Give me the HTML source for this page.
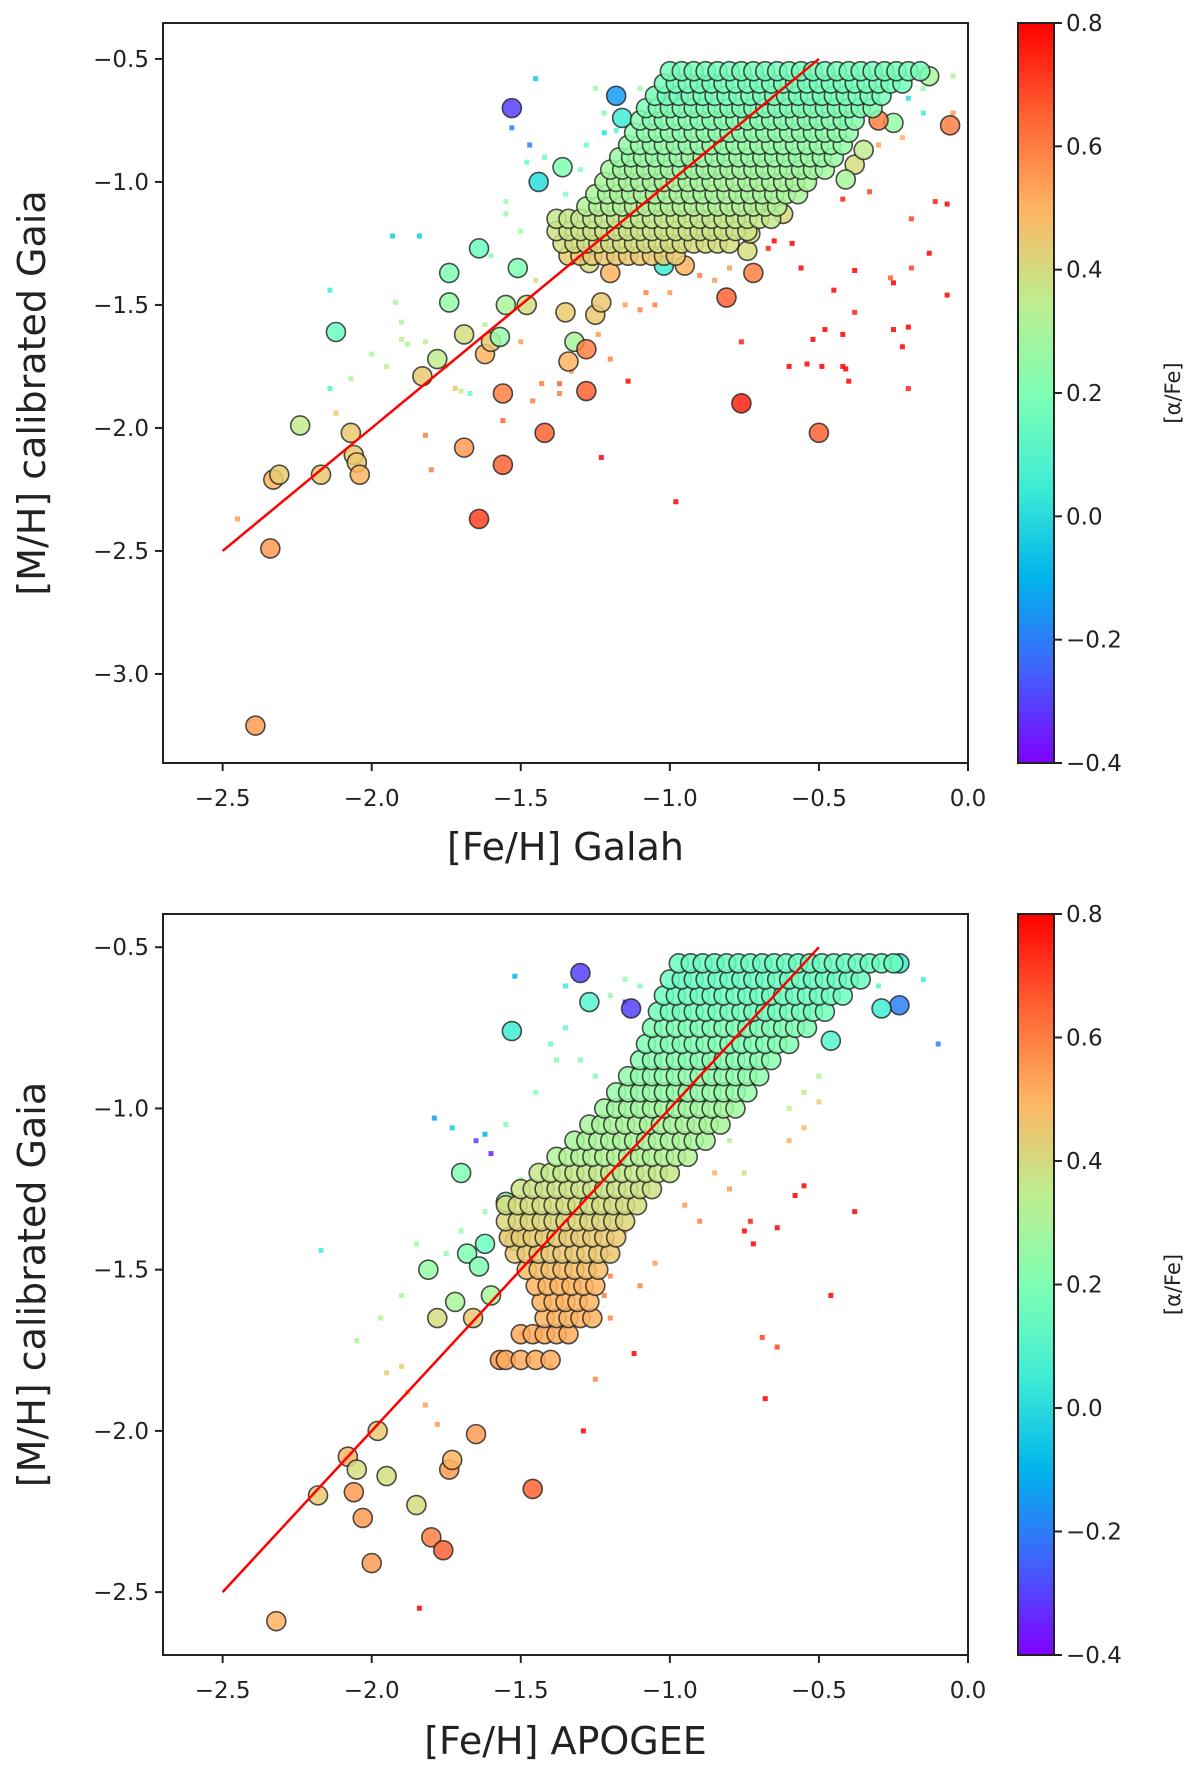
<!DOCTYPE html>
<html><head><meta charset="utf-8"><style>
html,body{margin:0;padding:0;background:#fff;}
svg{display:block;font-family:"DejaVu Sans","Liberation Sans",sans-serif;}
</style></head><body>
<svg id="fig" width="1200" height="1769" viewBox="0 0 1200 1769">
<defs>
<linearGradient id="rb" x1="0" y1="1" x2="0" y2="0">
<stop offset="0" stop-color="rgb(128,0,255)"/><stop offset="0.125" stop-color="rgb(64,98,250)"/>
<stop offset="0.25" stop-color="rgb(0,180,236)"/><stop offset="0.375" stop-color="rgb(64,236,212)"/>
<stop offset="0.5" stop-color="rgb(128,255,180)"/><stop offset="0.625" stop-color="rgb(191,236,142)"/>
<stop offset="0.75" stop-color="rgb(255,180,98)"/><stop offset="0.875" stop-color="rgb(255,98,50)"/>
<stop offset="1" stop-color="rgb(255,0,0)"/>
</linearGradient>
</defs>
</svg>
<script>
// ---------- data: top panel (GALAH) ----------
const galahOutliers = [[-1.53,-0.70,-0.3],[-2.39,-3.21,0.55],[-2.34,-2.49,0.55],[-2.33,-2.21,0.5],[-2.31,-2.19,0.45],[-2.24,-1.99,0.35],[-2.17,-2.19,0.45],[-2.12,-1.61,0.15],[-2.07,-2.02,0.45],[-2.06,-2.11,0.45],[-2.05,-2.14,0.45],[-2.04,-2.19,0.5],[-1.83,-1.79,0.45],[-1.78,-1.72,0.35],[-1.74,-1.49,0.25],[-1.74,-1.37,0.2],[-1.69,-1.62,0.4],[-1.69,-2.08,0.55],[-1.64,-1.27,0.15],[-1.64,-2.37,0.7],[-1.62,-1.70,0.5],[-1.60,-1.65,0.45],[-1.57,-1.63,0.25],[-1.56,-1.86,0.6],[-1.56,-2.15,0.65],[-1.55,-1.50,0.3],[-1.51,-1.35,0.2],[-1.48,-1.50,0.4],[-1.42,-2.02,0.65],[-1.44,-1.00,0.0],[-1.36,-0.94,0.2],[-1.35,-1.53,0.45],[-1.34,-1.73,0.5],[-1.32,-1.65,0.3],[-1.28,-1.85,0.65],[-1.28,-1.68,0.6],[-1.25,-1.54,0.45],[-1.23,-1.49,0.45],[-1.27,-1.33,0.4],[-1.20,-1.37,0.5],[-1.18,-0.65,-0.15],[-1.16,-0.74,0.05],[-1.02,-1.34,0.05],[-0.99,-0.65,-0.3],[-0.95,-1.34,0.5],[-0.81,-1.47,0.65],[-0.76,-1.90,0.75],[-0.50,-2.02,0.65],[-0.06,-0.77,0.6],[-0.74,-1.28,0.4],[-0.72,-1.37,0.6],[-0.73,-1.21,0.4],[-0.62,-1.13,0.4],[-0.71,-1.10,0.45],[-0.38,-0.93,0.4],[-0.35,-0.87,0.35],[-0.25,-0.76,0.25],[-0.30,-0.75,0.6],[-0.13,-0.57,0.3],[-0.41,-0.99,0.3]];
const galahRowY = [-1.30,-1.25,-1.20,-1.15,-1.10,-1.05,-1.00,-0.95,-0.90,-0.85,-0.80,-0.75,-0.70,-0.65,-0.60,-0.55];
const galahRowA = [0.45,0.4,0.38,0.36,0.32,0.3,0.3,0.28,0.26,0.25,0.24,0.22,0.2,0.18,0.18,0.18];
const galahRowX = [
[-1.34,-1.30,-1.26,-1.22,-1.18,-1.14,-1.10,-1.06,-1.02,-0.98],
[-1.36,-1.32,-1.28,-1.24,-1.20,-1.16,-1.12,-1.08,-1.04,-1.00,-0.96,-0.92,-0.88,-0.84,-0.80],
[-1.38,-1.34,-1.30,-1.26,-1.22,-1.18,-1.14,-1.10,-1.06,-1.02,-0.98,-0.94,-0.90,-0.86,-0.82,-0.78,-0.74],
[-1.38,-1.34,-1.30,-1.26,-1.22,-1.18,-1.14,-1.10,-1.06,-1.02,-0.98,-0.94,-0.90,-0.86,-0.82,-0.78,-0.74,-0.70,-0.66],
[-1.28,-1.24,-1.20,-1.16,-1.12,-1.08,-1.04,-1.00,-0.96,-0.92,-0.88,-0.84,-0.80,-0.76,-0.72,-0.68,-0.64],
[-1.25,-1.21,-1.17,-1.13,-1.09,-1.05,-1.01,-0.97,-0.93,-0.89,-0.85,-0.81,-0.77,-0.73,-0.69,-0.65,-0.61,-0.57],
[-1.22,-1.18,-1.14,-1.10,-1.06,-1.02,-0.98,-0.94,-0.90,-0.86,-0.82,-0.78,-0.74,-0.70,-0.66,-0.62,-0.58,-0.54],
[-1.20,-1.16,-1.12,-1.08,-1.04,-1.00,-0.96,-0.92,-0.88,-0.84,-0.80,-0.76,-0.72,-0.68,-0.64,-0.60,-0.56,-0.52,-0.48],
[-1.17,-1.13,-1.09,-1.05,-1.01,-0.97,-0.93,-0.89,-0.85,-0.81,-0.77,-0.73,-0.69,-0.65,-0.61,-0.57,-0.53,-0.49,-0.45],
[-1.14,-1.10,-1.06,-1.02,-0.98,-0.94,-0.90,-0.86,-0.82,-0.78,-0.74,-0.70,-0.66,-0.62,-0.58,-0.54,-0.50,-0.46,-0.42],
[-1.12,-1.08,-1.04,-1.00,-0.96,-0.92,-0.88,-0.84,-0.80,-0.76,-0.72,-0.68,-0.64,-0.60,-0.56,-0.52,-0.48,-0.44,-0.40],
[-1.10,-1.06,-1.02,-0.98,-0.94,-0.90,-0.86,-0.82,-0.78,-0.74,-0.70,-0.66,-0.62,-0.58,-0.54,-0.50,-0.46,-0.42,-0.38],
[-1.08,-1.04,-1.00,-0.96,-0.92,-0.88,-0.84,-0.80,-0.76,-0.72,-0.68,-0.64,-0.60,-0.56,-0.52,-0.48,-0.44,-0.40,-0.36,-0.32],
[-1.05,-1.01,-0.97,-0.93,-0.89,-0.85,-0.81,-0.77,-0.73,-0.69,-0.65,-0.61,-0.57,-0.53,-0.49,-0.45,-0.41,-0.37,-0.33,-0.29],
[-1.02,-0.98,-0.94,-0.90,-0.86,-0.82,-0.78,-0.74,-0.70,-0.66,-0.62,-0.58,-0.54,-0.50,-0.46,-0.42,-0.38,-0.34,-0.30,-0.26,-0.22],
[-1.00,-0.96,-0.92,-0.88,-0.84,-0.80,-0.76,-0.72,-0.68,-0.64,-0.60,-0.56,-0.52,-0.48,-0.44,-0.40,-0.36,-0.32,-0.28,-0.24,-0.20,-0.16]];
const galahDots = [[-0.45,-1.44,0.8],[-0.42,-1.62,0.8],[-0.41,-1.76,0.8],[-0.40,-1.81,0.8],[-0.38,-1.36,0.8],[-0.38,-1.53,0.75],[-0.25,-1.41,0.8],[-0.25,-1.60,0.8],[-0.22,-1.67,0.8],[-0.20,-1.84,0.75],[-0.20,-1.59,0.8],[-0.13,-1.29,0.8],[-0.11,-1.08,0.75],[-0.07,-1.09,0.8],[-0.07,-1.46,0.8],[-0.56,-1.35,0.8],[-0.60,-1.75,0.8],[-0.54,-1.74,0.8],[-0.52,-1.64,0.8],[-0.49,-1.75,0.8],[-0.48,-1.60,0.8],[-0.59,-1.25,0.8],[-0.65,-1.24,0.8],[-0.67,-1.27,0.75],[-0.76,-1.65,0.75],[-0.98,-2.30,0.8],[-1.23,-2.12,0.8],[-1.14,-1.81,0.8],[-0.42,-1.75,0.8],[-0.42,-1.07,0.75],[-0.33,-1.04,0.7],[-0.19,-1.35,0.7],[-0.19,-1.15,0.7],[-0.26,-1.39,0.65],
[-1.80,-2.17,0.6],[-1.82,-2.03,0.6],[-1.56,-1.97,0.65],[-1.72,-1.84,0.45],[-1.50,-1.65,0.55],[-1.43,-1.82,0.6],[-1.46,-1.89,0.6],[-1.37,-1.82,0.65],[-1.37,-1.86,0.6],[-1.33,-1.77,0.55],[-1.20,-1.72,0.6],[-1.24,-1.62,0.55],[-1.15,-1.50,0.55],[-1.10,-1.52,0.6],[-1.05,-1.50,0.6],[-1.00,-1.45,0.55],[-0.90,-1.38,0.6],[-0.85,-1.40,0.55],[-1.08,-1.45,0.6],[-0.98,-1.28,0.6],[-0.80,-1.35,0.55],
[-1.45,-0.58,-0.05],[-1.47,-0.85,-0.2],[-1.53,-0.78,-0.2],[-1.93,-1.22,-0.05],[-1.84,-1.22,-0.05],[-2.14,-1.44,0.05],[-2.14,-1.84,0.1],[-2.07,-1.80,0.3],[-2.00,-1.70,0.3],[-1.92,-1.49,0.3],[-1.90,-1.57,0.3],[-1.90,-1.64,0.35],[-1.88,-1.66,0.3],[-1.82,-1.65,0.35],[-2.12,-1.94,0.45],[-2.45,-2.37,0.55],[-1.70,-1.85,0.35],[-1.67,-1.86,0.15],[-1.55,-1.08,0.25],[-1.55,-1.13,0.25],[-1.60,-1.30,0.2],[-1.50,-1.20,0.25],[-1.48,-0.92,0.15],[-1.42,-0.90,0.15],[-1.35,-1.05,0.2],[-1.30,-0.95,0.2],[-1.28,-0.85,0.15],[-1.25,-0.62,0.25],[-1.22,-0.72,0.2],[-1.22,-0.80,0.0],[-1.18,-0.79,0.1],[-1.10,-0.62,0.25],[-1.07,-0.70,-0.15],[-0.90,-0.60,0.2],[-0.05,-0.57,0.3],[-0.05,-0.72,0.55],[-0.15,-0.62,0.25],[-0.20,-0.66,0.0],[-0.32,-0.66,0.25],[-0.42,-0.75,0.05],[-0.30,-0.85,0.55],[-0.22,-0.82,0.5],[-0.15,-0.72,0.05],[-1.62,-1.58,0.35],[-1.45,-1.40,0.4],[-1.75,-1.75,0.4],[-1.95,-1.75,0.35]];
// ---------- data: bottom panel (APOGEE) ----------
const apogeeOutliers = [[-2.32,-2.59,0.5],[-2.18,-2.20,0.45],[-2.08,-2.08,0.5],[-2.06,-2.19,0.55],[-2.05,-2.12,0.4],[-2.03,-2.27,0.55],[-2.00,-2.41,0.55],[-1.98,-2.00,0.45],[-1.95,-2.14,0.4],[-1.85,-2.23,0.4],[-1.80,-2.33,0.6],[-1.76,-2.37,0.65],[-1.74,-2.12,0.55],[-1.73,-2.09,0.5],[-1.65,-2.01,0.55],[-1.46,-2.18,0.65],[-1.81,-1.50,0.25],[-1.78,-1.65,0.4],[-1.72,-1.60,0.3],[-1.70,-1.20,0.2],[-1.68,-1.45,0.2],[-1.66,-1.65,0.45],[-1.64,-1.49,0.2],[-1.62,-1.42,0.15],[-1.60,-1.58,0.3],[-1.57,-1.78,0.55],[-1.55,-1.29,0.25],[-1.52,-1.41,0.3],[-1.53,-0.76,0.05],[-1.30,-0.58,-0.3],[-1.27,-0.67,0.1],[-1.13,-0.69,-0.3],[-0.23,-0.55,0.05],[-0.23,-0.68,-0.2],[-0.29,-0.69,0.05],[-0.46,-0.79,0.1]];
const apogeeRowY = [-1.78,-1.70,-1.65,-1.60,-1.55,-1.50,-1.45,-1.40,-1.35,-1.30,-1.25,-1.20,-1.15,-1.10,-1.05,-1.00,-0.95,-0.90,-0.85,-0.80,-0.75,-0.70,-0.65,-0.60,-0.55];
const apogeeRowA = [0.52,0.52,0.5,0.5,0.5,0.48,0.45,0.45,0.42,0.4,0.38,0.36,0.32,0.3,0.3,0.28,0.25,0.24,0.22,0.2,0.2,0.17,0.16,0.15,0.15];
const apogeeRowX = [
[-1.55,-1.50,-1.45,-1.40],
[-1.50,-1.46,-1.42,-1.38,-1.34],
[-1.42,-1.38,-1.34,-1.30,-1.26],
[-1.43,-1.39,-1.35,-1.31,-1.27],
[-1.45,-1.41,-1.37,-1.33,-1.29,-1.25],
[-1.48,-1.44,-1.40,-1.36,-1.32,-1.28,-1.24],
[-1.52,-1.48,-1.44,-1.40,-1.36,-1.32,-1.28,-1.24,-1.20],
[-1.54,-1.50,-1.46,-1.42,-1.38,-1.34,-1.30,-1.26,-1.22,-1.18],
[-1.55,-1.51,-1.47,-1.43,-1.39,-1.35,-1.31,-1.27,-1.23,-1.19,-1.15],
[-1.55,-1.51,-1.47,-1.43,-1.39,-1.35,-1.31,-1.27,-1.23,-1.19,-1.15,-1.11],
[-1.50,-1.46,-1.42,-1.38,-1.34,-1.30,-1.26,-1.22,-1.18,-1.14,-1.10,-1.06],
[-1.44,-1.40,-1.36,-1.32,-1.28,-1.24,-1.20,-1.16,-1.12,-1.08,-1.04,-1.00],
[-1.38,-1.34,-1.30,-1.26,-1.22,-1.18,-1.14,-1.10,-1.06,-1.02,-0.98,-0.94],
[-1.32,-1.28,-1.24,-1.20,-1.16,-1.12,-1.08,-1.04,-1.00,-0.96,-0.92,-0.88],
[-1.27,-1.23,-1.19,-1.15,-1.11,-1.07,-1.03,-0.99,-0.95,-0.91,-0.87,-0.83],
[-1.22,-1.18,-1.14,-1.10,-1.06,-1.02,-0.98,-0.94,-0.90,-0.86,-0.82,-0.78],
[-1.18,-1.14,-1.10,-1.06,-1.02,-0.98,-0.94,-0.90,-0.86,-0.82,-0.78,-0.74],
[-1.14,-1.10,-1.06,-1.02,-0.98,-0.94,-0.90,-0.86,-0.82,-0.78,-0.74,-0.70],
[-1.10,-1.06,-1.02,-0.98,-0.94,-0.90,-0.86,-0.82,-0.78,-0.74,-0.70,-0.66],
[-1.08,-1.04,-1.00,-0.96,-0.92,-0.88,-0.84,-0.80,-0.76,-0.72,-0.68,-0.64,-0.60],
[-1.06,-1.02,-0.98,-0.94,-0.90,-0.86,-0.82,-0.78,-0.74,-0.70,-0.66,-0.62,-0.58,-0.54],
[-1.04,-1.00,-0.96,-0.92,-0.88,-0.84,-0.80,-0.76,-0.72,-0.68,-0.64,-0.60,-0.56,-0.52,-0.48],
[-1.02,-0.98,-0.94,-0.90,-0.86,-0.82,-0.78,-0.74,-0.70,-0.66,-0.62,-0.58,-0.54,-0.50,-0.46,-0.42],
[-1.00,-0.96,-0.92,-0.88,-0.84,-0.80,-0.76,-0.72,-0.68,-0.64,-0.60,-0.56,-0.52,-0.48,-0.44,-0.40,-0.36],
[-0.97,-0.93,-0.89,-0.85,-0.81,-0.77,-0.73,-0.69,-0.65,-0.61,-0.57,-0.53,-0.49,-0.45,-0.41,-0.37,-0.33,-0.29,-0.25]];
const apogeeDots = [[-1.84,-2.55,0.8],[-1.29,-2.00,0.8],[-1.12,-1.76,0.8],[-0.68,-1.90,0.8],[-0.69,-1.71,0.7],[-0.64,-1.74,0.7],[-0.46,-1.58,0.8],[-0.38,-1.32,0.8],[-0.55,-1.24,0.8],[-0.58,-1.27,0.8],[-0.64,-1.37,0.8],[-0.72,-1.42,0.8],[-0.75,-1.38,0.8],[-0.73,-1.35,0.75],[-1.20,-1.52,0.6],[-1.05,-1.48,0.55],[-1.10,-1.55,0.6],[-1.25,-1.84,0.6],[-1.35,-1.62,0.6],[-1.40,-1.80,0.6],[-1.45,-1.72,0.6],[-1.50,-1.70,0.6],[-1.82,-1.92,0.55],[-1.78,-1.98,0.55],[-1.90,-1.80,0.45],
[-1.60,-1.14,-0.35],[-1.65,-1.10,-0.3],[-1.15,-0.67,-0.35],[-1.79,-1.03,-0.15],[-1.52,-0.59,-0.1],[-1.62,-1.08,-0.1],[-1.73,-1.06,-0.05],[-1.35,-0.62,0.05],[-2.17,-1.44,0.05],[-0.10,-0.80,-0.2],[-0.15,-0.60,0.05],[-0.30,-0.62,0.1],
[-1.45,-0.95,0.2],[-1.40,-0.80,0.15],[-1.35,-0.75,0.15],[-1.38,-0.85,0.2],[-1.30,-0.85,0.2],[-1.25,-0.90,0.2],[-1.20,-0.65,0.25],[-1.15,-0.60,0.25],[-1.10,-0.62,0.2],[-1.55,-1.05,0.2],[-1.50,-1.22,0.25],[-1.62,-1.32,0.25],[-1.75,-1.45,0.25],[-1.70,-1.38,0.25],[-1.90,-1.58,0.3],[-1.85,-1.42,0.25],[-2.05,-1.72,0.3],[-1.97,-1.65,0.3],[-0.80,-1.10,0.35],[-0.75,-1.20,0.4],[-0.60,-1.00,0.35],[-0.55,-0.95,0.35],[-0.50,-0.90,0.3],
[-1.20,-1.45,0.55],[-1.15,-1.38,0.55],[-0.95,-1.30,0.55],[-0.90,-1.35,0.6],[-0.85,-1.20,0.5],[-0.80,-1.25,0.55],[-0.60,-1.10,0.5],[-0.55,-1.06,0.5],[-0.50,-0.98,0.45],[-1.25,-1.50,0.55],[-1.22,-1.58,0.6],[-1.20,-1.65,0.6],[-1.35,-1.38,0.55],[-1.95,-1.82,0.45],[-1.88,-1.88,0.5]];
const fitLineX = [-2.5,-0.5];
const fitLineY = [-2.5,-0.5];
const xTicks = [-2.5,-2.0,-1.5,-1.0,-0.5,0.0];
const xTickLabels = ["\u22122.5","\u22122.0","\u22121.5","\u22121.0","\u22120.5","0.0"];
const galahYTicks = [-0.5,-1.0,-1.5,-2.0,-2.5,-3.0];
const galahYTickLabels = ["\u22120.5","\u22121.0","\u22121.5","\u22122.0","\u22122.5","\u22123.0"];
const apogeeYTicks = [-0.5,-1.0,-1.5,-2.0,-2.5];
const apogeeYTickLabels = ["\u22120.5","\u22121.0","\u22121.5","\u22122.0","\u22122.5"];
const cbTicks = [0.8,0.6,0.4,0.2,0.0,-0.2,-0.4];
const cbTickLabels = ["0.8","0.6","0.4","0.2","0.0","\u22120.2","\u22120.4"];

const NS = "http://www.w3.org/2000/svg";
const svg = document.getElementById('fig');
function mk(tag, attrs, parent){ const e=document.createElementNS(NS,tag); for(const k in attrs) e.setAttribute(k,attrs[k]); (parent||svg).appendChild(e); return e; }
function rainbow(a){
  let t=(a+0.4)/1.2; t=Math.max(0,Math.min(1,t));
  const r=Math.min(1,Math.abs(2*t-0.5)), g=Math.sin(Math.PI*t), b=Math.max(0,Math.cos(Math.PI*t/2));
  return `rgb(${Math.round(r*255)},${Math.round(g*255)},${Math.round(b*255)})`;
}
function rowsToPts(ry, rx, ra){ const out=[]; for(let i=0;i<ry.length;i++) for(let j=0;j<rx[i].length;j++) out.push([rx[i][j], ry[i], ra[i]]); return out; }

function panel(cfg){
  const {L,R,T,B,xmin,xmax,ymin,ymax,name,xlabel,xlabelY,tickLabY,yTicks,yLabels,circles,dots} = cfg;
  const sx=v=>L+(v-xmin)/(xmax-xmin)*(R-L);
  const sy=v=>B-(v-ymin)/(ymax-ymin)*(B-T);
  const g=mk('g',{});  
  const pts=mk('g',{},g);  
  dots.forEach(d=>{ const r=mk('rect',{x:sx(d[0])-2.5,y:sy(d[1])-2.5,width:5,height:5,fill:rainbow(d[2]),'fill-opacity':0.85},pts);
      });
  circles.forEach(c=>{ const e=mk('circle',{cx:sx(c[0]),cy:sy(c[1]),r:9.5,fill:rainbow(c[2]),'fill-opacity':0.85,stroke:'#222','stroke-opacity':0.8,'stroke-width':1.6},pts);
      });
  const ln=mk('line',{x1:sx(fitLineX[0]),y1:sy(fitLineY[0]),x2:sx(fitLineX[1]),y2:sy(fitLineY[1]),stroke:'#ff0000','stroke-width':2.5},g);
   
  const fr=mk('rect',{x:L,y:T,width:R-L,height:B-T,fill:'none',stroke:'#222','stroke-width':2},g);
   
  xTicks.forEach((v,i)=>{ mk('line',{x1:sx(v),x2:sx(v),y1:B,y2:B+8,stroke:'#222','stroke-width':2},g);
    const t=mk('text',{x:sx(v),y:tickLabY,'text-anchor':'middle','font-size':23,fill:'#222'},g); t.textContent=xTickLabels[i];
      });
  yTicks.forEach((v,i)=>{ mk('line',{x1:L-8,x2:L,y1:sy(v),y2:sy(v),stroke:'#222','stroke-width':2},g);
    const t=mk('text',{x:L-14,y:sy(v)+8,'text-anchor':'end','font-size':23,fill:'#222'},g); t.textContent=yLabels[i];
      });
  const xl=mk('text',{x:(L+R)/2,y:xlabelY,'text-anchor':'middle','font-size':38,fill:'#222'},g); xl.textContent=xlabel;
   
  const cy=(T+B)/2;
  const yl=mk('text',{x:0,y:0,transform:`translate(45,${cy}) rotate(-90)`,'text-anchor':'middle','font-size':38,fill:'#222'},g); yl.textContent='[M/H] calibrated Gaia';
   
  const cb=mk('g',{},g);  
  const cL=1018,cR=1054;
  mk('rect',{x:cL,y:T,width:cR-cL,height:B-T,fill:'url(#rb)',stroke:'#222','stroke-width':2},cb);
  const cs=v=>B-(v+0.4)/1.2*(B-T);
  cbTicks.forEach((v,i)=>{ mk('line',{x1:cR,x2:cR+8,y1:cs(v),y2:cs(v),stroke:'#222','stroke-width':2},cb);
    const t=mk('text',{x:cR+12,y:cs(v)+8,'font-size':23,fill:'#222'},cb); t.textContent=cbTickLabels[i];
      });
  const cl=mk('text',{x:0,y:0,transform:`translate(1180,${cy}) rotate(-90)`,'text-anchor':'middle','font-size':21,fill:'#222'},cb); cl.textContent='[\u03b1/Fe]';
   
}
panel({L:163,R:968,T:23,B:763,xmin:-2.7,xmax:0,ymin:-3.362,ymax:-0.354,name:'galah',xlabel:'[Fe/H] Galah',xlabelY:860,tickLabY:806,
  yTicks:galahYTicks,yLabels:galahYTickLabels,circles:galahOutliers.concat(rowsToPts(galahRowY,galahRowX,galahRowA)),dots:galahDots});
panel({L:163,R:968,T:914,B:1655,xmin:-2.7,xmax:0,ymin:-2.695,ymax:-0.397,name:'apogee',xlabel:'[Fe/H] APOGEE',xlabelY:1754,tickLabY:1698,
  yTicks:apogeeYTicks,yLabels:apogeeYTickLabels,circles:apogeeOutliers.concat(rowsToPts(apogeeRowY,apogeeRowX,apogeeRowA)),dots:apogeeDots});
</script>
</body></html>
